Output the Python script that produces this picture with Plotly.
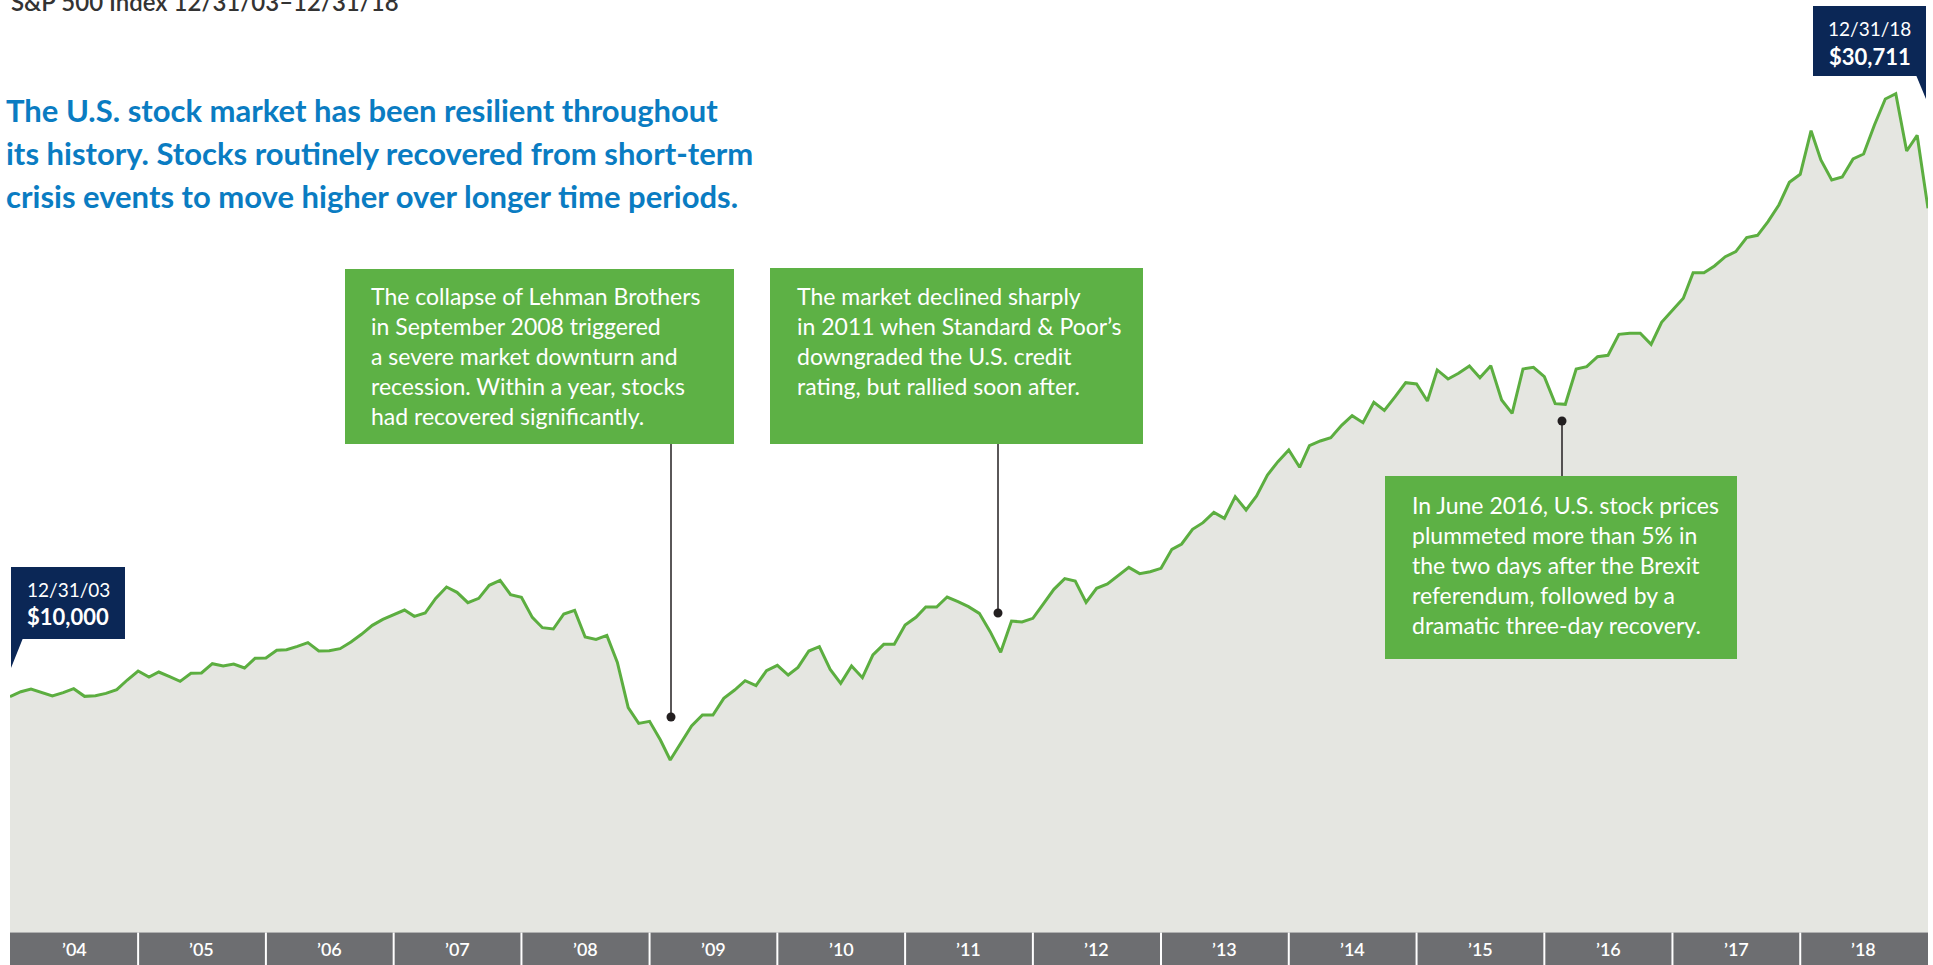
import plotly.graph_objects as go
import pandas as pd

# ---------------- data ----------------
dates = pd.date_range("2003-12-01", periods=181, freq="MS") + pd.offsets.MonthEnd(0)

values = [
    10000,
    10213, 10326, 10185, 10029, 10171, 10340, 10015, 10043, 10142, 10298, 10708, 11090,
    10835, 11047, 10849, 10651, 10991, 11005, 11401, 11302, 11387, 11217, 11627, 11641,
    11966, 11994, 12136, 12291, 11938, 11952, 12037, 12319, 12645, 13026, 13281, 13464,
    13676, 13408, 13549, 14171, 14652, 14426, 13988, 14171, 14723, 14935, 14327, 14214,
    13365, 12927, 12871, 13507, 13662, 12531, 12432, 12602, 11457, 9535, 8870, 8955,
    8164, 7316, 8022, 8757, 9224, 9224, 9931, 10284, 10680, 10468, 11104, 11330,
    10920, 11245, 11938, 12122, 11160, 10567, 11302, 10807, 11769, 12221, 12221, 13041,
    13366, 13804, 13804, 14228, 14030, 13818, 13535, 12758, 11882, 13210, 13168, 13324,
    13960, 14553, 15006, 14907, 14002, 14596, 14779, 15119, 15486, 15218, 15302, 15444,
    16250, 16476, 17098, 17380, 17819, 17564, 18483, 17918, 18511, 19402, 19967, 20462,
    19728, 20647, 20845, 20987, 21509, 21919, 21622, 22484, 22145, 22725, 23318, 23262,
    22541, 23856, 23474, 23714, 24025, 23531, 24040, 22584, 22018, 23898, 23969, 23573,
    22428, 22400, 23898, 23997, 24421, 24478, 25368, 25411, 25411, 24944, 25877, 26386,
    26895, 27983, 27983, 28266, 28662, 28874, 29468, 29567, 30146, 30853, 31814, 32154,
    34005, 32761, 31913, 32040, 32804, 33016, 34246, 35348, 35574, 33143, 33807, 30711,
]

years = list(range(2004, 2019))
year_labels = ["’04", "’05", "’06", "’07", "’08", "’09", "’10", "’11",
               "’12", "’13", "’14", "’15", "’16", "’17", "’18"]

title_text = "S&P 500 Index 12/31/03–12/31/18"
headline_lines = [
    "The U.S. stock market has been resilient throughout",
    "its history. Stocks routinely recovered from short-term",
    "crisis events to move higher over longer time periods.",
]
start_label = ("12/31/03", "$10,000")
end_label = ("12/31/18", "$30,711")
callouts = [
    "The collapse of Lehman Brothers<br>in September 2008 triggered<br>a severe market downturn and<br>recession. Within a year, stocks<br>had recovered significantly.",
    "The market declined sharply<br>in 2011 when Standard &amp; Poor’s<br>downgraded the U.S. credit<br>rating, but rallied soon after.",
    "In June 2016, U.S. stock prices<br>plummeted more than 5% in<br>the two days after the Brexit<br>referendum, followed by a<br>dramatic three-day recovery.",
]

# ---------------- styling ----------------
W, H = 1933, 965
L, R = 10, 5
PW = W - L - R
FONT = "Lato"
LINE_GREEN = "#5cae40"
BOX_GREEN = "#5db145"
FILL_GRAY = "#e5e6e1"
BAR_GRAY = "#6d6e71"
NAVY = "#0b2756"
BLUE = "#0a7cc2"
Y_MIN, Y_MAX = -1378, 39546


def px(x):
    return (x - L) / PW


def py(y):
    return (H - y) / H


fig = go.Figure()
fig.add_trace(go.Scatter(
    x=dates, y=values, mode="lines",
    line=dict(color=LINE_GREEN, width=3),
    fill="tozeroy", fillcolor=FILL_GRAY,
    hoverinfo="skip",
))

shapes = []
annotations = []

# bottom year bar
shapes.append(dict(type="rect", xref="x", yref="y", x0=dates[0], x1=dates[-1],
                   y0=Y_MIN, y1=0, fillcolor=BAR_GRAY, line_width=0, layer="above"))
for yr in years[:-1]:
    shapes.append(dict(type="line", xref="x", yref="y", x0=f"{yr}-12-31", x1=f"{yr}-12-31",
                       y0=Y_MIN, y1=0, line=dict(color="white", width=2), layer="above"))
for yr, lab in zip(years, year_labels):
    annotations.append(dict(x=f"{yr}-07-01", xref="x", y=py(949), yref="paper",
                            text=lab, showarrow=False, xanchor="center", yanchor="middle",
                            font=dict(family=FONT, size=18, color="white", weight=600)))

# title and headline
annotations.append(dict(x=px(9), y=py(2), xref="paper", yref="paper", text=title_text,
                        showarrow=False, xanchor="left", yanchor="middle",
                        font=dict(family=FONT, size=24, color="#333333", weight=600)))
for txt, yc in zip(headline_lines, [110, 153, 196]):
    annotations.append(dict(x=px(4), y=py(yc), xref="paper", yref="paper", text=txt,
                            showarrow=False, xanchor="left", yanchor="middle",
                            font=dict(family=FONT, size=31, color=BLUE, weight=700)))

# start / end navy labels
def navy_label(x0, x1, y0, y1, tri, texts, ys):
    shapes.append(dict(type="rect", xref="paper", yref="paper", x0=px(x0), x1=px(x1),
                       y0=py(y1), y1=py(y0), fillcolor=NAVY, line_width=0, layer="above"))
    path = "M " + " L ".join(f"{px(a)},{py(b)}" for a, b in tri) + " Z"
    shapes.append(dict(type="path", xref="paper", yref="paper", path=path,
                       fillcolor=NAVY, line_width=0, layer="above"))
    xc = (x0 + x1) / 2
    annotations.append(dict(x=px(xc), y=py(ys[0]), xref="paper", yref="paper", text=texts[0],
                            showarrow=False, xanchor="center", yanchor="middle",
                            font=dict(family=FONT, size=19, color="white")))
    annotations.append(dict(x=px(xc), y=py(ys[1]), xref="paper", yref="paper",
                            text=f"<b>{texts[1]}</b>",
                            showarrow=False, xanchor="center", yanchor="middle",
                            font=dict(family=FONT, size=22, color="white")))


navy_label(11, 125, 567, 639, [(11, 638), (23, 638), (11, 668)], start_label, (589, 617))
navy_label(1813, 1926, 6, 76, [(1916, 75), (1926, 75), (1926, 99)], end_label, (28, 56))

# green callouts
callout_geo = [
    # box x0, x1, y0, y1, text x, text middle y, leader x, dot y
    (345, 734, 269, 444, 369, 355.5, 671, 717),
    (770, 1143, 268, 444, 795, 340.5, 998, 613),
    (1385, 1737, 476, 659, 1410, 565, 1562, 421),
]
for txt, (bx0, bx1, by0, by1, tx, ty, lx, dy) in zip(callouts, callout_geo):
    shapes.append(dict(type="rect", xref="paper", yref="paper", x0=px(bx0), x1=px(bx1),
                       y0=py(by1), y1=py(by0), fillcolor=BOX_GREEN, line_width=0, layer="above"))
    edge = by1 if dy > by1 else by0
    shapes.append(dict(type="line", xref="paper", yref="paper", x0=px(lx), x1=px(lx),
                       y0=py(edge), y1=py(dy), line=dict(color="#231f20", width=1.5), layer="above"))
    r = 4.5
    shapes.append(dict(type="circle", xref="paper", yref="paper", x0=px(lx - r), x1=px(lx + r),
                       y0=py(dy + r), y1=py(dy - r), fillcolor="#231f20", line_width=0, layer="above"))
    annotations.append(dict(x=px(tx), y=py(ty), xref="paper", yref="paper", text=txt,
                            showarrow=False, xanchor="left", yanchor="middle", align="left",
                            font=dict(family=FONT, size=23, color="white")))

fig.update_layout(
    width=W, height=H,
    margin=dict(l=L, r=R, t=0, b=0, pad=0),
    paper_bgcolor="white", plot_bgcolor="white",
    showlegend=False, hovermode=False,
    xaxis=dict(visible=False, range=[dates[0], dates[-1]], fixedrange=True),
    yaxis=dict(visible=False, range=[Y_MIN, Y_MAX], fixedrange=True),
    shapes=shapes, annotations=annotations,
)

fig.write_html(
    "out.html",
    config={"displayModeBar": False},
    post_script="document.body.style.margin='0';document.body.style.overflow='hidden';",
)
